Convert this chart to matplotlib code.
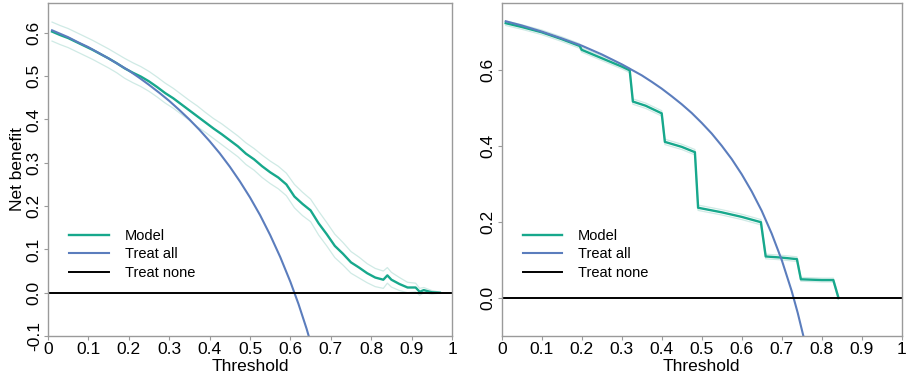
import numpy as np
import matplotlib.pyplot as plt

plt.rcParams['font.family'] = ['Liberation Sans', 'DejaVu Sans']

# ---- left panel data ----
t_left = [0.01, 0.03, 0.05, 0.07, 0.09, 0.11, 0.13, 0.15, 0.17, 0.19,
          0.21, 0.23, 0.25, 0.27, 0.29, 0.31, 0.33, 0.35, 0.37, 0.39,
          0.41, 0.43, 0.45, 0.47, 0.49, 0.51, 0.53, 0.55, 0.57, 0.59,
          0.61, 0.63, 0.65, 0.67, 0.69, 0.71, 0.73, 0.75, 0.77, 0.79,
          0.81, 0.83, 0.84, 0.85, 0.87, 0.89, 0.91, 0.92, 0.93, 0.95, 0.97]
model_left = [0.603, 0.595, 0.588, 0.579, 0.570, 0.561, 0.551, 0.541, 0.530, 0.518,
              0.508, 0.499, 0.488, 0.475, 0.461, 0.449, 0.435, 0.421, 0.407, 0.393,
              0.379, 0.366, 0.352, 0.338, 0.321, 0.308, 0.292, 0.278, 0.266, 0.250,
              0.222, 0.205, 0.190, 0.160, 0.135, 0.108, 0.090, 0.070, 0.058, 0.045,
              0.035, 0.030, 0.040, 0.030, 0.020, 0.012, 0.012, 0.002, 0.006, 0.001, 0.000]
upper_left = [0.625, 0.617, 0.610, 0.601, 0.592, 0.583, 0.573, 0.563, 0.552, 0.541,
              0.531, 0.522, 0.511, 0.498, 0.484, 0.472, 0.458, 0.444, 0.431, 0.416,
              0.402, 0.390, 0.376, 0.362, 0.346, 0.333, 0.318, 0.304, 0.292, 0.276,
              0.250, 0.232, 0.216, 0.188, 0.162, 0.135, 0.116, 0.095, 0.082, 0.067,
              0.056, 0.050, 0.058, 0.047, 0.035, 0.024, 0.022, 0.010, 0.012, 0.005, 0.001]
lower_left = [0.581, 0.573, 0.566, 0.557, 0.548, 0.539, 0.529, 0.519, 0.508, 0.495,
              0.485, 0.476, 0.465, 0.452, 0.438, 0.426, 0.412, 0.398, 0.383, 0.370,
              0.356, 0.342, 0.328, 0.314, 0.296, 0.283, 0.266, 0.252, 0.240, 0.224,
              0.196, 0.178, 0.164, 0.133, 0.108, 0.081, 0.064, 0.045, 0.034, 0.023,
              0.014, 0.010, 0.022, 0.013, 0.005, 0.000, 0.002, -0.006, 0.000, -0.003, -0.001]
t_all_left = [0.01, 0.025, 0.05, 0.075, 0.1, 0.125, 0.15, 0.175, 0.2, 0.225, 0.25,
              0.275, 0.3, 0.325, 0.35, 0.375, 0.4, 0.425, 0.45, 0.475, 0.5,
              0.525, 0.55, 0.575, 0.6, 0.62, 0.64, 0.66]
all_left = [0.606, 0.600, 0.590, 0.578, 0.567, 0.554, 0.541, 0.527, 0.513, 0.497, 0.480,
            0.462, 0.443, 0.422, 0.400, 0.376, 0.350, 0.322, 0.291, 0.257, 0.220,
            0.179, 0.133, 0.082, 0.025, -0.026, -0.083, -0.147]

# ---- right panel data ----
t_right = [0.01, 0.05, 0.10, 0.15, 0.195, 0.20, 0.25, 0.30, 0.32, 0.328, 0.36, 0.40,
           0.408, 0.45, 0.483, 0.491, 0.55, 0.60, 0.648, 0.66, 0.70, 0.738, 0.748,
           0.80, 0.829, 0.842]
model_right = [0.722, 0.712, 0.698, 0.680, 0.662, 0.652, 0.630, 0.608, 0.598, 0.516, 0.505, 0.485,
               0.410, 0.397, 0.383, 0.237, 0.225, 0.213, 0.199, 0.109, 0.106, 0.102, 0.049,
               0.047, 0.047, 0.000]
upper_right = [0.728, 0.718, 0.704, 0.686, 0.668, 0.658, 0.636, 0.614, 0.604, 0.523, 0.512, 0.492,
               0.417, 0.404, 0.390, 0.244, 0.232, 0.220, 0.206, 0.115, 0.112, 0.108, 0.054,
               0.052, 0.052, 0.003]
lower_right = [0.716, 0.706, 0.692, 0.674, 0.656, 0.646, 0.624, 0.602, 0.592, 0.509, 0.498, 0.478,
               0.403, 0.390, 0.376, 0.230, 0.218, 0.206, 0.192, 0.103, 0.100, 0.096, 0.044,
               0.042, 0.042, -0.003]
t_all_right = [0.01, 0.05, 0.1, 0.15, 0.2, 0.25, 0.3, 0.35, 0.375, 0.4, 0.425, 0.45, 0.475,
               0.5, 0.525, 0.55, 0.575, 0.6, 0.625, 0.65, 0.675, 0.7, 0.725, 0.74, 0.76]
all_right = [0.727, 0.716, 0.700, 0.682, 0.663, 0.640, 0.614, 0.585, 0.568, 0.550, 0.530, 0.509,
             0.486, 0.460, 0.432, 0.400, 0.365, 0.325, 0.280, 0.229, 0.169, 0.100, 0.018,
             -0.039, -0.125]

xticks = [0, 0.1, 0.2, 0.3, 0.4, 0.5, 0.6, 0.7, 0.8, 0.9, 1]
xticklabels = ['0', '0.1', '0.2', '0.3', '0.4', '0.5', '0.6', '0.7', '0.8', '0.9', '1']

c_model = '#17a88c'
c_ci = '#cfeae5'
c_all = '#5b7dbd'
frame = '#9a9a9a'

fig = plt.figure(figsize=(9.08, 3.78), dpi=100)
ax1 = fig.add_axes([48 / 908, 1 - 336 / 378, 404 / 908, 333 / 378])
ax2 = fig.add_axes([501.7 / 908, 1 - 336 / 378, 400 / 908, 333 / 378])


def panel(ax, t, m, up, lo, ta, a, ylim, yticks, yticklabels):
    ax.plot(t, up, color=c_ci, lw=0.9)
    ax.plot(t, lo, color=c_ci, lw=0.9)
    ax.plot(t, m, color=c_model, lw=1.7, label='Model')
    ax.plot(ta, a, color=c_all, lw=1.5, label='Treat all')
    ax.axhline(0, color='black', lw=1.4, label='Treat none')
    ax.set_xlim(0, 1)
    ax.set_ylim(*ylim)
    ax.set_xticks(xticks)
    ax.set_xticklabels(xticklabels)
    ax.set_yticks(yticks)
    ax.set_yticklabels(yticklabels, rotation=90, va='center')
    ax.tick_params(labelsize=12.5, length=3, color=frame, pad=1.5)
    for s in ax.spines.values():
        s.set_color(frame)
        s.set_linewidth(1.0)
    ax.set_xlabel('Threshold', fontsize=12.5, labelpad=1)
    ax.legend(loc='center left', bbox_to_anchor=(0.02, 0.245), frameon=False,
              fontsize=10.5, handlelength=2.7, handletextpad=1.1, labelspacing=0.3)


panel(ax1, t_left, model_left, upper_left, lower_left, t_all_left, all_left,
      (-0.1, 0.669), [-0.1, 0, 0.1, 0.2, 0.3, 0.4, 0.5, 0.6],
      ['-0.1', '0.0', '0.1', '0.2', '0.3', '0.4', '0.5', '0.6'])
ax1.set_ylabel('Net benefit', fontsize=12.5, labelpad=1)

panel(ax2, t_right, model_right, upper_right, lower_right, t_all_right, all_right,
      (-0.1, 0.775), [0, 0.2, 0.4, 0.6], ['0.0', '0.2', '0.4', '0.6'])

fig.savefig('out.png', dpi=100)
